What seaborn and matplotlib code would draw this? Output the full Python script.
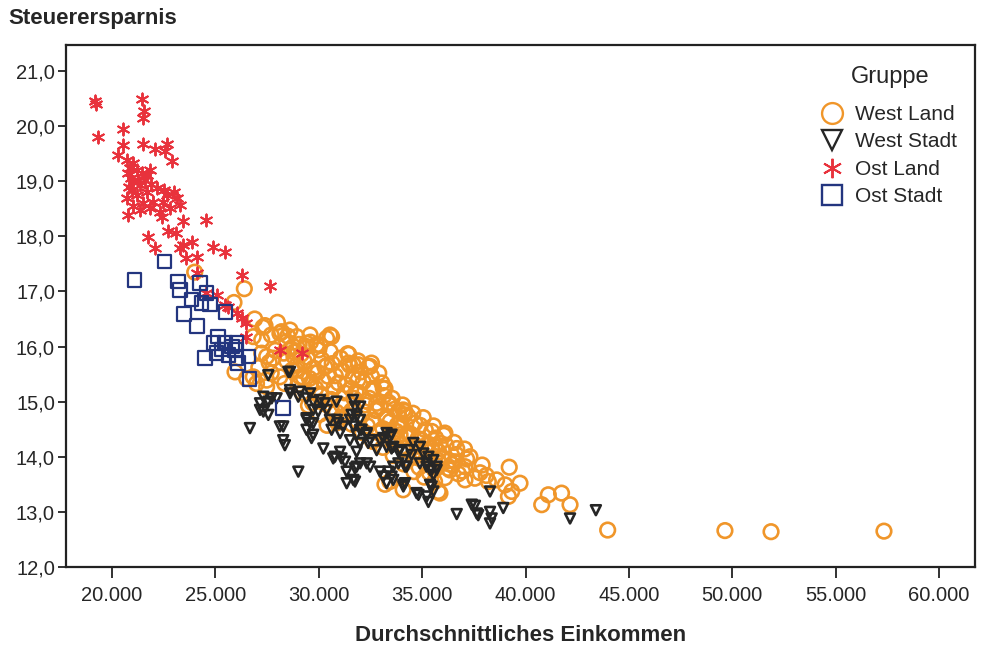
import pandas as pd
import matplotlib
matplotlib.use('Agg')
import matplotlib.pyplot as plt
from matplotlib.lines import Line2D
from matplotlib.ticker import FuncFormatter, MultipleLocator
import seaborn as sns

# Werte (Einkommen, Steuerersparnis)
west_land_x = [24000, 26400, 25900, 26900, 27300, 27700, 28200, 28450, 26830, 27240, 27240, 27480, 27800,
               25950, 26830, 27480, 28120, 27480, 26990, 26510, 28120, 28610, 28930, 29410, 29900, 30380,
               30620, 29580, 30540, 30060, 28770, 29410, 31670, 32480, 31430, 31910, 32550, 32630, 33200,
               32630, 32800, 33120, 34080, 34320, 34170, 33930, 33280, 33850, 35460, 36100, 35860, 35620,
               35210, 34890, 34570, 33930, 36670, 37310, 37070, 37550, 37070, 36590, 36350, 35860, 39210,
               38200, 38600, 39010, 39730, 39330, 39170, 40780, 41100, 41740, 42150, 35780, 35860, 33440,
               34080, 33200, 43970, 49640, 51870, 57330,
               27100, 27600, 27900, 27400, 28000, 27700, 28500, 28650, 28450, 28700, 28350, 28800,
               29050, 29150, 28950, 29250, 29000, 29300, 29200, 29600, 29450, 29750, 29550, 29850, 29500,
               29700, 30000, 30150, 29950, 30250, 30100, 30300, 30050, 30550, 30650, 30450, 30750, 30600,
               30400, 30850, 31050, 31150, 30950, 31250, 31100, 31350, 30900, 31500, 31450, 31650, 31550,
               31700, 31600, 31850, 31400, 32050, 32150, 31950, 32250, 32100, 32350, 31900, 32550, 32650,
               32450, 32750, 32600, 32850, 32400, 33050, 33150, 32950, 33250, 33100, 33350, 32900, 33550,
               33650, 33450, 33750, 33600, 33400, 34050, 34150, 33950, 34250, 34100, 34350, 34550, 34650,
               34450, 34750, 34600, 34850, 35050, 35150, 34950, 35250, 35100, 35350, 35550, 35650, 35450,
               35750, 35600, 36050, 36150, 35950, 36250, 36100, 36550, 36650, 36450, 36750, 37050, 37150,
               36950, 37800, 38100, 37900,
               28800, 29300, 29800, 30300, 30800, 31300, 31800, 32300, 32800, 33300, 33800, 34300,
               34800, 35300, 35800, 36300, 29100, 29600, 30100, 30600, 31100, 31600, 32100, 32600,
               33100, 33600, 34100, 34600, 35100, 35600, 28300, 28900, 30400, 31900, 33400, 34900]
west_land_y = [17.35, 17.05, 16.80, 16.50, 16.35, 16.21, 16.27, 16.09, 16.18, 16.12, 15.88, 15.82, 15.79,
               15.54, 15.45, 15.39, 15.45, 15.27, 15.33, 15.42, 16.24, 16.30, 16.18, 16.06, 16.03, 16.15,
               16.18, 16.21, 16.21, 16.03, 16.00, 16.00, 15.67, 15.64, 15.70, 15.67, 15.70, 15.24, 15.24,
               15.21, 14.97, 15.24, 14.85, 14.73, 14.82, 14.61, 14.70, 14.82, 14.46, 14.43, 14.25, 14.18,
               14.21, 14.03, 14.21, 14.40, 14.15, 14.00, 13.82, 13.61, 13.58, 13.91, 13.76, 13.88, 13.81,
               13.55, 13.58, 13.49, 13.52, 13.37, 13.28, 13.13, 13.31, 13.34, 13.13, 13.37, 13.34, 13.55,
               13.40, 13.50, 12.67, 12.66, 12.64, 12.65,
               15.62, 15.71, 15.93, 16.38, 16.44, 15.52, 16.19, 15.96, 15.74, 15.57, 15.33, 15.82,
               16.04, 15.86, 15.66, 15.44, 15.31, 15.97, 15.16, 16.08, 15.81, 15.61, 15.42, 15.24, 14.93,
               14.98, 15.94, 15.76, 15.53, 15.36, 15.14, 14.96, 14.77, 15.91, 15.69, 15.46, 15.26, 15.04,
               14.57, 14.81, 15.79, 15.56, 15.34, 15.16, 14.94, 14.76, 14.62, 15.66, 15.86, 15.44, 15.24,
               15.06, 14.84, 14.66, 15.87, 15.54, 15.36, 15.16, 14.94, 14.76, 14.56, 15.74, 15.46, 15.24,
               15.06, 14.84, 14.66, 14.44, 15.63, 15.34, 15.11, 14.91, 14.69, 14.51, 14.31, 15.52, 15.06,
               14.86, 14.64, 14.46, 14.26, 14.94, 14.94, 14.76, 14.54, 14.36, 14.16, 13.96, 14.79, 14.61,
               14.41, 14.19, 14.01, 13.81, 14.71, 14.49, 14.31, 14.09, 13.91, 13.71, 14.56, 14.34, 14.16,
               13.94, 13.76, 14.39, 14.21, 13.99, 13.79, 13.62, 14.26, 14.04, 13.86, 13.69, 14.14, 13.96,
               13.74, 13.71, 13.66, 13.85,
               15.90, 15.73, 15.52, 15.63, 15.47, 15.31, 15.18, 15.01, 14.86, 14.73, 14.58, 14.43,
               14.33, 14.23, 14.09, 13.93, 15.45, 15.33, 15.11, 14.88, 14.72, 14.59, 14.44, 14.28,
               14.17, 14.02, 13.87, 13.73, 13.63, 13.55, 15.88, 15.58, 15.66, 15.40, 14.98, 14.57]

west_stadt_x = [27560, 28610, 28530, 27320, 27720, 27480, 27960, 27160, 27560, 27320, 27560, 28610, 29090,
                29410, 27160, 28280, 28280, 28360, 29010, 26670, 29730, 30300, 30860, 29730, 29970, 30380,
                29410, 29580, 29410, 29730, 29650, 30540, 30940, 31180, 30620, 31030, 31510, 32000, 31830,
                30220, 30700, 31030, 31270, 31350, 31750, 31670, 32000, 32320, 32480, 32000, 31830, 32320,
                32480, 32000, 33120, 33360, 32960, 33280, 33120, 33520, 33850, 34090, 34250, 33850, 33280,
                34090, 33520, 33600, 33930, 34410, 34490, 33600, 34170, 33520, 34890, 35210, 35380, 35700,
                35540, 35380, 34090, 34820, 35300, 36670, 37550, 37710, 38280, 38360, 38280, 38920, 38280,
                42150, 43400, 28610, 29010, 29580, 30060, 31660, 31750, 28120, 29410, 29730, 30870, 31350,
                31750, 30780, 31100, 31830, 33600, 34170, 34730, 35220, 35460, 35540, 37400, 37640, 31590,
                31990, 31670, 32070, 31830, 32310, 31510, 31990, 32390, 33440, 32960, 33280, 32800, 34570,
                34890, 35050, 35300, 35220, 35540, 35700, 35460]
west_stadt_y = [15.48, 15.54, 15.54, 15.09, 15.06, 14.97, 15.06, 14.97, 15.00, 14.82, 14.76, 15.21, 15.18,
                15.06, 14.85, 14.55, 14.30, 14.21, 13.73, 14.52, 15.00, 14.97, 15.00, 14.85, 14.82, 14.85,
                14.70, 14.61, 14.49, 14.40, 14.34, 14.67, 14.61, 14.55, 14.49, 14.43, 14.67, 14.91, 14.73,
                14.15, 13.97, 14.09, 13.91, 13.73, 13.79, 13.58, 14.49, 14.43, 14.30, 14.25, 14.09, 13.88,
                13.82, 13.88, 13.64, 13.73, 13.73, 14.43, 14.34, 14.15, 14.09, 13.94, 13.82, 13.88, 13.52,
                13.49, 14.40, 14.18, 14.12, 14.12, 14.03, 13.82, 13.82, 13.64, 13.88, 13.82, 13.76, 13.76,
                13.67, 13.49, 13.46, 13.31, 13.18, 12.96, 13.11, 12.94, 13.00, 12.88, 12.79, 13.07, 13.37,
                12.88, 13.03, 15.15, 15.09, 15.15, 15.03, 15.03, 14.91, 14.55, 14.67, 14.61, 14.67, 13.52,
                13.55, 14.00, 13.97, 13.82, 13.58, 13.52, 13.34, 13.28, 13.46, 13.37, 13.13, 12.97, 14.76,
                14.67, 14.55, 14.49, 14.40, 14.40, 14.30, 14.25, 14.25, 14.36, 14.30, 14.18, 14.12, 14.25,
                14.18, 14.06, 14.00, 13.88, 13.94, 13.82, 13.76]

ost_land_x = [19180, 19250, 21440, 21550, 21510, 19340, 20550, 20550, 21510, 22070, 22670, 22560, 22880,
              20300, 20710, 21030, 20870, 21190, 21440, 21680, 20790, 21270, 21030, 21840, 21600, 20900,
              21350, 20950, 20710, 21190, 21680, 22160, 22650, 23130, 23290, 22480, 22000, 21510, 21350,
              22320, 22800, 21840, 22400, 20790, 21900, 22500, 23000, 21000, 20800, 23450, 24550, 21760,
              22720, 23100, 22070, 23450, 23850, 23290, 23600, 24100, 24900, 25460, 26270, 27640, 24100,
              24570, 25060, 25460, 25600, 26030, 26270, 26500, 26500, 28120, 29170]
ost_land_y = [20.46, 20.40, 20.50, 20.28, 20.14, 19.81, 19.95, 19.66, 19.67, 19.59, 19.67, 19.55, 19.37,
              19.48, 19.39, 19.33, 19.24, 19.21, 19.15, 19.11, 19.15, 19.02, 18.99, 19.21, 19.02, 19.05,
              18.93, 18.85, 18.69, 18.75, 18.81, 18.87, 18.75, 18.69, 18.57, 18.63, 18.63, 18.60, 18.48,
              18.45, 18.51, 18.51, 18.36, 18.39, 18.95, 18.85, 18.80, 18.55, 18.90, 18.28, 18.30, 17.99,
              18.09, 18.06, 17.78, 17.84, 17.90, 17.78, 17.60, 17.63, 17.81, 17.72, 17.30, 17.09, 17.33,
              16.97, 16.94, 16.76, 16.72, 16.60, 16.51, 16.42, 16.18, 15.94, 15.88]

ost_stadt_x = [22530, 21080, 23200, 23300, 24250, 24580, 23850, 24330, 24740, 23480, 24120, 25500, 25140,
               24900, 25460, 26030, 25060, 25630, 25950, 26030, 24500, 26600, 26100, 26640, 28280, 25300,
               25800]
ost_stadt_y = [17.54, 17.21, 17.18, 17.03, 17.15, 16.97, 16.85, 16.79, 16.76, 16.59, 16.37, 16.63, 16.18,
               16.06, 16.06, 16.06, 15.88, 15.85, 15.94, 15.79, 15.79, 15.82, 15.70, 15.41, 14.88, 15.95,
               16.00]

gruppen = ['West Land', 'West Stadt', 'Ost Land', 'Ost Stadt']
farben = ['#F0962A', '#262626', '#E8323C', '#23357F']
marker = ['o', 'v', (6, 2, 0), 's']
groessen = [110, 50, 75, 95]
linien = [1.9, 1.9, 1.4, 1.6]

df = pd.concat([
    pd.DataFrame({'Einkommen': west_land_x, 'Ersparnis': west_land_y, 'Gruppe': 'West Land'}),
    pd.DataFrame({'Einkommen': west_stadt_x, 'Ersparnis': west_stadt_y, 'Gruppe': 'West Stadt'}),
    pd.DataFrame({'Einkommen': ost_land_x, 'Ersparnis': ost_land_y, 'Gruppe': 'Ost Land'}),
    pd.DataFrame({'Einkommen': ost_stadt_x, 'Ersparnis': ost_stadt_y, 'Gruppe': 'Ost Stadt'}),
], ignore_index=True)

sns.set_style('ticks')
plt.rcParams['font.family'] = ['Liberation Sans', 'DejaVu Sans']

fig = plt.figure(figsize=(9.86, 6.45), dpi=100)
ax = fig.add_axes([0.067, 0.121, 0.922, 0.809])

for g, c, m, s, lw in zip(gruppen, farben, marker, groessen, linien):
    sub = df[df['Gruppe'] == g]
    if g == 'Ost Land':
        sns.scatterplot(data=sub, x='Einkommen', y='Ersparnis', marker=m, s=s, color=c,
                        edgecolor=c, linewidth=lw, ax=ax, legend=False, zorder=3)
    else:
        sns.scatterplot(data=sub, x='Einkommen', y='Ersparnis', marker=m, s=s, color=c,
                        facecolor='none', edgecolor=c, linewidth=lw, ax=ax, legend=False, zorder=3)

ax.set_xlim(17780, 61740)
ax.set_ylim(12.0, 21.47)
ax.xaxis.set_major_locator(MultipleLocator(5000))
ax.yaxis.set_major_locator(MultipleLocator(1.0))
ax.xaxis.set_major_formatter(FuncFormatter(lambda v, p: f"{v:,.0f}".replace(',', '.')))
ax.yaxis.set_major_formatter(FuncFormatter(lambda v, p: f"{v:.1f}".replace('.', ',')))
ax.tick_params(axis='x', length=8, width=1.3, labelsize=14.5, pad=6, color='#222222')
ax.tick_params(axis='y', length=6, width=1.3, labelsize=14.5, pad=2, color='#222222')
for sp in ax.spines.values():
    sp.set_linewidth(1.6)
    sp.set_color('#222222')

ax.set_xlabel('Durchschnittliches Einkommen', fontsize=16, fontweight='bold', labelpad=14)
ax.set_ylabel('')
fig.text(0.008, 0.972, 'Steuerersparnis', fontsize=16, fontweight='bold', va='center', ha='left')

# Legende
handles = []
for g, c, m in zip(gruppen, farben, marker):
    if g == 'Ost Land':
        h = Line2D([], [], linestyle='none', marker=m, markersize=14, color=c, markeredgewidth=1.4)
    else:
        h = Line2D([], [], linestyle='none', marker=m, markersize=15, markerfacecolor='none',
                   markeredgecolor=c, markeredgewidth=1.7)
    handles.append(h)
ax.text(0.9065, 0.939, 'Gruppe', transform=ax.transAxes, fontsize=17, ha='center', va='center')
leg = ax.legend(handles, gruppen, loc='upper left', bbox_to_anchor=(0.81, 0.901),
                frameon=False, fontsize=15, handletextpad=0.1,
                labelspacing=0.4, borderaxespad=0)

plt.savefig('out.png', dpi=100)
